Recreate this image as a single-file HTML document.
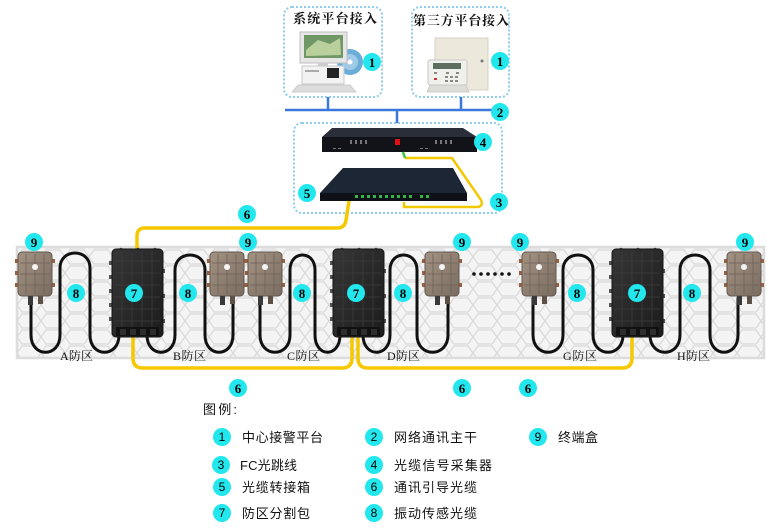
<!DOCTYPE html>
<html><head><meta charset="utf-8">
<style>
html,body{margin:0;padding:0;background:#fff;}
svg{display:block;}
.n{font-family:"Liberation Serif",serif;font-weight:bold;font-size:13px;text-anchor:middle;fill:#000;}
.z{font-family:"Liberation Serif","Noto Serif CJK SC",serif;font-size:12px;fill:#111;}
.lg{font-family:"Liberation Sans","Noto Sans CJK SC",sans-serif;font-size:13px;fill:#111;}
.tt{font-family:"Liberation Serif","Noto Serif CJK SC",serif;font-size:13px;font-weight:bold;fill:#111;}
</style></head><body>
<svg width="774" height="528" viewBox="0 0 774 528" xmlns="http://www.w3.org/2000/svg">
<defs>
<pattern id="fence" x="17" y="249" width="24" height="16" patternUnits="userSpaceOnUse">
<rect width="24" height="16" fill="#f4f4f4"/>
<path d="M0,8 L5,1 L19,1 L24,8 L19,15 L5,15 Z" fill="none" stroke="#d9d9d9" stroke-width="1.2"/>
</pattern>
<linearGradient id="tbg" x1="0" y1="0" x2="1" y2="1">
<stop offset="0" stop-color="#a39383"/><stop offset="1" stop-color="#7a6c60"/>
</linearGradient>
<linearGradient id="spg" x1="0" y1="0" x2="1" y2="1">
<stop offset="0" stop-color="#363636"/><stop offset="1" stop-color="#1c1c1c"/>
</linearGradient>
<g id="tb">
<rect x="-3" y="7" width="4" height="4" fill="#9a6040"/>
<rect x="-3" y="19" width="4" height="4" fill="#9a6040"/>
<rect x="-3" y="31" width="4" height="4" fill="#9a6040"/>
<rect x="33" y="7" width="4" height="4" fill="#9a6040"/>
<rect x="33" y="31" width="4" height="4" fill="#9a6040"/>
<rect x="0" y="0" width="34" height="44" rx="4" fill="url(#tbg)" stroke="#62574e" stroke-width="1"/>
<path d="M8,2V42 M17,2V42 M26,2V42 M2,11H32 M2,22H32 M2,33H32" stroke="#6e6258" stroke-width="0.8"/>
<circle cx="17" cy="15" r="3" fill="#f4f4f4"/>
<rect x="10" y="44" width="5" height="9" fill="#3a3a3a"/>
<rect x="20" y="44" width="5" height="8" fill="#5d5046"/>
</g>
<g id="sp">
<rect x="-3" y="12" width="4" height="4" fill="#555"/>
<rect x="-3" y="26" width="4" height="4" fill="#555"/>
<rect x="-3" y="40" width="4" height="4" fill="#555"/>
<rect x="-3" y="54" width="4" height="4" fill="#555"/>
<rect x="-3" y="68" width="4" height="4" fill="#555"/>
<rect x="50" y="20" width="3" height="4" fill="#555"/>
<rect x="50" y="45" width="3" height="4" fill="#555"/>
<rect x="50" y="70" width="3" height="4" fill="#555"/>
<circle cx="9" cy="1" r="2.2" fill="#555"/>
<circle cx="26" cy="1" r="2.2" fill="#555"/>
<circle cx="43" cy="1" r="2.2" fill="#555"/>
<rect x="0" y="0" width="51" height="88" rx="4" fill="url(#spg)" stroke="#141414"/>
<path d="M10,3V78 M20,3V78 M30,3V78 M40,3V78 M3,12H48 M3,24H48 M3,36H48 M3,48H48 M3,60H48 M3,72H48" stroke="#3d3d3d" stroke-width="0.8"/>
<rect x="4" y="78" width="43" height="9" fill="#111"/>
<rect x="8" y="80" width="6" height="6" fill="#2e2e2e"/>
<rect x="18" y="80" width="6" height="6" fill="#2e2e2e"/>
<rect x="28" y="80" width="6" height="6" fill="#2e2e2e"/>
<rect x="38" y="80" width="6" height="6" fill="#2e2e2e"/>
</g>
</defs>

<!-- top dashed boxes -->
<rect x="284" y="7" width="98" height="90" rx="8" fill="none" stroke="#8ecdf0" stroke-width="2" stroke-dasharray="2 2"/>
<rect x="412" y="7" width="97" height="90" rx="8" fill="none" stroke="#8ecdf0" stroke-width="2" stroke-dasharray="2 2"/>
<rect x="294" y="123" width="208" height="90" rx="8" fill="none" stroke="#8ecdf0" stroke-width="2" stroke-dasharray="2 2"/>

<text class="tt" x="293" y="23" textLength="84" lengthAdjust="spacing">系统平台接入</text>
<text class="tt" x="413" y="25" textLength="96" lengthAdjust="spacing">第三方平台接入</text>

<!-- computer -->
<circle cx="350" cy="62" r="13" fill="#6aaed8"/>
<circle cx="350" cy="62" r="8" fill="#9fcbe8"/>
<circle cx="350" cy="62" r="2.5" fill="#fff"/>
<rect x="300" y="32" width="47" height="31" fill="#e6e6e6" stroke="#bdbdbd"/>
<rect x="304" y="35" width="39" height="23" fill="#6f9866"/>
<path d="M306,50 L318,40 L330,44 L340,38 L341,55 L306,56Z" fill="#b9cf9c"/>
<rect x="318" y="63" width="10" height="3" fill="#cfcfcf"/>
<rect x="302" y="66" width="42" height="18" fill="#f2f2f2" stroke="#c8c8c8"/>
<rect x="327" y="68" width="12" height="10" fill="#222"/>
<rect x="305" y="70" width="14" height="2" fill="#aaa"/>
<path d="M298,85 H350 L356,92 H292Z" fill="#dcdcdc" stroke="#c4c4c4" stroke-width="0.7"/>

<!-- alarm panel -->
<rect x="435" y="38" width="53" height="52" fill="#ece8dc" stroke="#d6d2c4"/>
<circle cx="482" cy="61" r="1.5" fill="#777"/>
<rect x="428" y="60" width="39" height="25" rx="2" fill="#f0f0ec" stroke="#c8c8c4"/>
<rect x="433" y="63" width="28" height="6" fill="#5e6e60"/>
<g fill="#888">
<rect x="434" y="72" width="3" height="2"/><rect x="446" y="72" width="3" height="2"/><rect x="456" y="72" width="3" height="2"/>
<rect x="445" y="76" width="3" height="2"/><rect x="450" y="76" width="3" height="2"/><rect x="455" y="76" width="3" height="2"/>
<rect x="445" y="80" width="3" height="2"/><rect x="450" y="80" width="3" height="2"/><rect x="455" y="80" width="3" height="2"/>
<rect x="434" y="78" width="3" height="2" fill="#c33"/>
</g>
<path d="M430,85 H466 L469,92 H427Z" fill="#dcdcd8" stroke="#c4c4c0" stroke-width="0.7"/>

<!-- blue network -->
<path d="M285,110 H493 M328,97 V110 M461,97 V110 M397,110 V123" stroke="#3a78dc" stroke-width="2.5" fill="none"/>

<!-- device 4 -->
<path d="M332,128 H463 L477,137 H322Z" fill="#2a2e38"/>
<rect x="322" y="137" width="155" height="15" fill="#111318"/>
<g fill="#777">
<rect x="350" y="140" width="2" height="4"/><rect x="355" y="140" width="2" height="4"/><rect x="360" y="140" width="2" height="4"/><rect x="365" y="140" width="2" height="4"/>
<rect x="435" y="140" width="2" height="4"/><rect x="440" y="140" width="2" height="4"/><rect x="445" y="140" width="2" height="4"/><rect x="450" y="140" width="2" height="4"/>
<rect x="333" y="148" width="3" height="1"/><rect x="338" y="148" width="3" height="1"/><rect x="420" y="148" width="3" height="1"/><rect x="425" y="148" width="3" height="1"/>
</g>
<rect x="395" y="139" width="5" height="6" fill="#e01010"/>

<!-- device 5 -->
<path d="M343,168 H453 L467,193 H320Z" fill="#1c2634"/>
<rect x="320" y="193" width="147" height="8" fill="#0e1218"/>
<g fill="#2fb84a">
<rect x="355" y="195" width="3" height="3"/><rect x="361" y="195" width="3" height="3"/><rect x="367" y="195" width="3" height="3"/><rect x="373" y="195" width="3" height="3"/><rect x="379" y="195" width="3" height="3"/><rect x="385" y="195" width="3" height="3"/><rect x="391" y="195" width="3" height="3"/><rect x="397" y="195" width="3" height="3"/><rect x="403" y="195" width="3" height="3"/><rect x="409" y="195" width="3" height="3"/><rect x="420" y="195" width="3" height="3"/><rect x="426" y="195" width="3" height="3"/>
</g>

<!-- FC jumper -->
<path d="M405,158 H452 L481,200 Q484,207 476,207 H404 V202" fill="none" stroke="#f2c800" stroke-width="2.5"/>
<path d="M403,152 L405,158" stroke="#3ec43e" stroke-width="2.5"/>

<!-- fence -->
<rect x="17" y="247" width="747" height="111" fill="url(#fence)" stroke="#dcdcdc" stroke-width="2.5"/>

<!-- yellow cables -->
<g fill="none" stroke="#f5c800" stroke-width="3.5">
<path d="M349,201 L346,220 Q345,228 337,228 H145 Q137,228 137,236 V252"/>
<path d="M352,330 V358 Q352,368 342,368 H143 Q133,368 133,358 V330"/>
<path d="M358,330 V358 Q358,368 368,368 H622 Q632,368 632,358 V330"/>
</g>

<!-- black sensing cables -->
<g fill="none" stroke="#111" stroke-width="3" stroke-linecap="round">
<path d="M31,298 V335 C31,358 60,358 60,335 V268 C60,248 90,248 90,268 V335 C90,358 119,358 119,335 V330"/>
<path d="M147,330 V335 C147,358 175,358 175,335 V270 C175,250 205,250 205,270 V335 C205,358 233,358 233,335 V298"/>
<path d="M260,298 V335 C260,358 290,358 290,335 V270 C290,250 315,250 315,270 V335 C315,358 340,358 340,335 V330"/>
<path d="M363,330 V335 C363,358 390,358 390,335 V270 C390,250 417,250 417,270 V335 C417,358 448,358 448,335 V298"/>
<path d="M533,298 V335 C533,358 563,358 563,335 V270 C563,250 593,250 593,270 V335 C593,358 623,358 623,335 V330"/>
<path d="M650,330 V335 C650,358 680,358 680,335 V270 C680,250 710,250 710,270 V335 C710,358 738,358 738,335 V298"/>
</g>

<!-- boxes -->
<use href="#tb" x="18" y="252"/>
<use href="#tb" x="210" y="252"/>
<use href="#tb" x="248" y="252"/>
<use href="#tb" x="425" y="252"/>
<use href="#tb" x="522" y="252"/>
<use href="#tb" x="727" y="252"/>
<use href="#sp" x="112" y="249"/>
<use href="#sp" x="333" y="249"/>
<use href="#sp" x="612" y="249"/>

<!-- dots -->
<g fill="#111">
<circle cx="474" cy="274" r="1.8"/><circle cx="481" cy="274" r="1.8"/><circle cx="488" cy="274" r="1.8"/><circle cx="495" cy="274" r="1.8"/><circle cx="502" cy="274" r="1.8"/><circle cx="509" cy="274" r="1.8"/>
</g>

<!-- zone labels -->
<text class="z" x="60" y="360" textLength="33" lengthAdjust="spacing">A防区</text>
<text class="z" x="173" y="360" textLength="33" lengthAdjust="spacing">B防区</text>
<text class="z" x="287" y="360" textLength="33" lengthAdjust="spacing">C防区</text>
<text class="z" x="387" y="360" textLength="33" lengthAdjust="spacing">D防区</text>
<text class="z" x="563" y="360" textLength="34" lengthAdjust="spacing">G防区</text>
<text class="z" x="677" y="360" textLength="33" lengthAdjust="spacing">H防区</text>

<!-- numbered circles -->
<g fill="#22e8ee">
<circle cx="372" cy="62" r="9"/><circle cx="500" cy="61" r="9"/>
<circle cx="500" cy="112" r="9"/><circle cx="499" cy="202" r="9"/>
<circle cx="483" cy="142" r="9"/><circle cx="307" cy="193" r="9"/>
<circle cx="247" cy="214" r="9"/><circle cx="238" cy="388" r="9"/><circle cx="462" cy="388" r="9"/><circle cx="528" cy="388" r="9"/>
<circle cx="134" cy="293" r="9"/><circle cx="356" cy="293" r="9"/><circle cx="637" cy="293" r="9"/>
<circle cx="76" cy="293" r="9"/><circle cx="188" cy="293" r="9"/><circle cx="302" cy="293" r="9"/><circle cx="403" cy="293" r="9"/><circle cx="577" cy="293" r="9"/><circle cx="692" cy="293" r="9"/>
<circle cx="34" cy="242" r="9"/><circle cx="248" cy="242" r="9"/><circle cx="462" cy="242" r="9"/><circle cx="520" cy="242" r="9"/><circle cx="745" cy="242" r="9"/>
<circle cx="222" cy="437" r="9"/><circle cx="374" cy="437" r="9"/><circle cx="538" cy="437" r="9"/>
<circle cx="221" cy="465" r="9"/><circle cx="374" cy="465" r="9"/>
<circle cx="222" cy="487" r="9"/><circle cx="374" cy="487" r="9"/>
<circle cx="222" cy="513" r="9"/><circle cx="374" cy="513" r="9"/>
</g>
<g class="n">
<text x="372" y="67">1</text><text x="500" y="66">1</text>
<text x="500" y="117">2</text><text x="499" y="207">3</text>
<text x="483" y="147">4</text><text x="307" y="198">5</text>
<text x="247" y="219">6</text><text x="238" y="393">6</text><text x="462" y="393">6</text><text x="528" y="393">6</text>
<text x="134" y="298">7</text><text x="356" y="298">7</text><text x="637" y="298">7</text>
<text x="76" y="298">8</text><text x="188" y="298">8</text><text x="302" y="298">8</text><text x="403" y="298">8</text><text x="577" y="298">8</text><text x="692" y="298">8</text>
<text x="34" y="247">9</text><text x="248" y="247">9</text><text x="462" y="247">9</text><text x="520" y="247">9</text><text x="745" y="247">9</text>
</g>
<g class="n" style="font-weight:normal;font-family:'Liberation Sans',sans-serif;font-size:12px">
<text x="222" y="441">1</text><text x="374" y="441">2</text><text x="538" y="441">9</text>
<text x="221" y="469">3</text><text x="374" y="469">4</text>
<text x="222" y="491">5</text><text x="374" y="491">6</text>
<text x="222" y="517">7</text><text x="374" y="517">8</text>
</g>

<!-- legend -->
<text class="lg" x="203" y="414" textLength="34" lengthAdjust="spacing">图例:</text>
<text class="lg" x="242" y="442" textLength="81" lengthAdjust="spacing">中心接警平台</text>
<text class="lg" x="394" y="442" textLength="83" lengthAdjust="spacing">网络通讯主干</text>
<text class="lg" x="558" y="442" textLength="40" lengthAdjust="spacing">终端盒</text>
<text class="lg" x="240" y="470" textLength="57" lengthAdjust="spacing">FC光跳线</text>
<text class="lg" x="394" y="470" textLength="98" lengthAdjust="spacing">光缆信号采集器</text>
<text class="lg" x="242" y="492" textLength="68" lengthAdjust="spacing">光缆转接箱</text>
<text class="lg" x="394" y="492" textLength="83" lengthAdjust="spacing">通讯引导光缆</text>
<text class="lg" x="242" y="518" textLength="68" lengthAdjust="spacing">防区分割包</text>
<text class="lg" x="394" y="518" textLength="83" lengthAdjust="spacing">振动传感光缆</text>
</svg>
</body></html>
